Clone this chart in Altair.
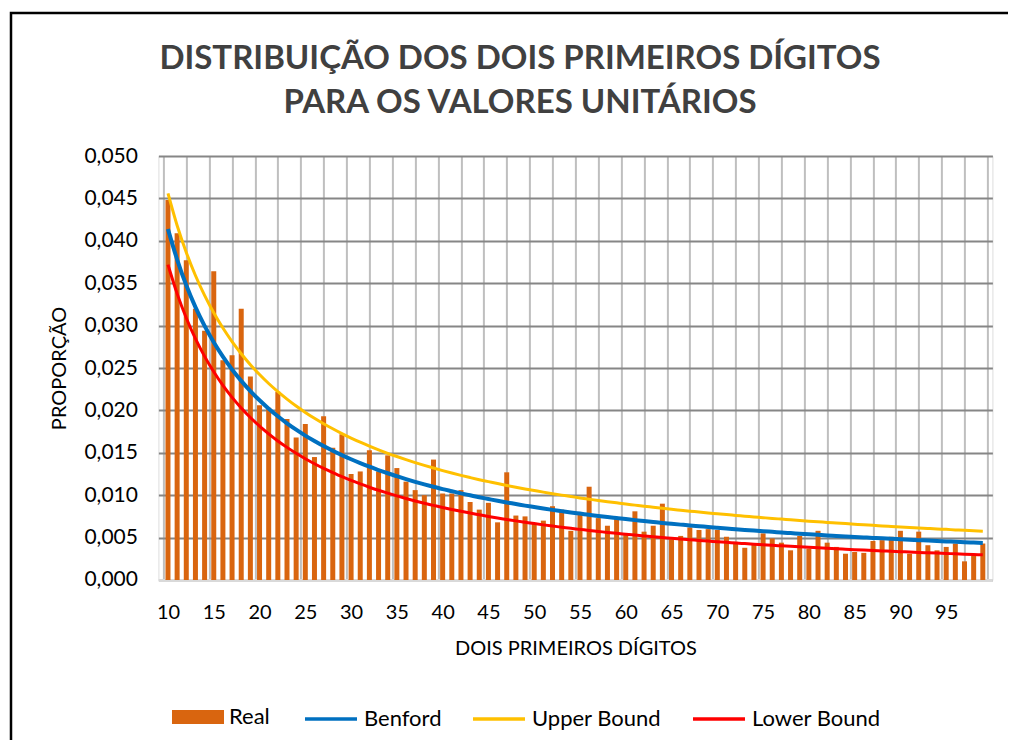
import altair as alt
import pandas as pd

# ---------------- data ----------------
digitos = list(range(10, 100))

real = [
    0.0448, 0.0409, 0.0377, 0.0320, 0.0294, 0.0364, 0.0259, 0.0265, 0.0320, 0.0240,  # 10-19
    0.0206, 0.0203, 0.0222, 0.0190, 0.0168, 0.0184, 0.0145, 0.0193, 0.0156, 0.0172,  # 20-29
    0.0125, 0.0128, 0.0153, 0.0128, 0.0147, 0.0132, 0.0116, 0.0106, 0.0100, 0.0142,  # 30-39
    0.0102, 0.0102, 0.0106, 0.0092, 0.0083, 0.0091, 0.0068, 0.0127, 0.0076, 0.0075,  # 40-49
    0.0067, 0.0070, 0.0087, 0.0083, 0.0058, 0.0077, 0.0110, 0.0073, 0.0064, 0.0072,  # 50-59
    0.0053, 0.0081, 0.0057, 0.0064, 0.0090, 0.0048, 0.0052, 0.0062, 0.0059, 0.0060,  # 60-69
    0.0059, 0.0051, 0.0045, 0.0038, 0.0042, 0.0055, 0.0049, 0.0044, 0.0035, 0.0052,  # 70-79
    0.0037, 0.0058, 0.0044, 0.0039, 0.0031, 0.0033, 0.0032, 0.0046, 0.0047, 0.0051,  # 80-89
    0.0058, 0.0031, 0.0057, 0.0041, 0.0035, 0.0039, 0.0043, 0.0022, 0.0029, 0.0043,  # 90-99
]

benford = [
    0.04139, 0.03779, 0.03476, 0.03218, 0.02996, 0.02803, 0.02633, 0.02482, 0.02348, 0.02228,
    0.02119, 0.02020, 0.01931, 0.01848, 0.01773, 0.01703, 0.01639, 0.01579, 0.01524, 0.01472,
    0.01424, 0.01379, 0.01336, 0.01297, 0.01259, 0.01224, 0.01190, 0.01158, 0.01128, 0.01100,
    0.01072, 0.01047, 0.01022, 0.00999, 0.00976, 0.00955, 0.00934, 0.00914, 0.00896, 0.00877,
    0.00860, 0.00843, 0.00827, 0.00812, 0.00797, 0.00783, 0.00769, 0.00755, 0.00742, 0.00730,
    0.00718, 0.00706, 0.00695, 0.00684, 0.00673, 0.00663, 0.00653, 0.00643, 0.00634, 0.00625,
    0.00616, 0.00607, 0.00599, 0.00591, 0.00583, 0.00575, 0.00568, 0.00560, 0.00553, 0.00546,
    0.00540, 0.00533, 0.00526, 0.00520, 0.00514, 0.00508, 0.00502, 0.00496, 0.00491, 0.00485,
    0.00480, 0.00475, 0.00470, 0.00465, 0.00460, 0.00455, 0.00450, 0.00445, 0.00441, 0.00437,
]

upper_bound = [
    0.04560, 0.04181, 0.03863, 0.03591, 0.03356, 0.03151, 0.02971, 0.02811, 0.02668, 0.02539,
    0.02423, 0.02317, 0.02221, 0.02133, 0.02051, 0.01976, 0.01907, 0.01843, 0.01783, 0.01726,
    0.01674, 0.01625, 0.01579, 0.01535, 0.01494, 0.01456, 0.01419, 0.01384, 0.01351, 0.01320,
    0.01290, 0.01261, 0.01234, 0.01208, 0.01183, 0.01160, 0.01137, 0.01115, 0.01094, 0.01074,
    0.01055, 0.01036, 0.01018, 0.01001, 0.00985, 0.00968, 0.00953, 0.00938, 0.00924, 0.00910,
    0.00896, 0.00883, 0.00870, 0.00858, 0.00846, 0.00834, 0.00823, 0.00812, 0.00802, 0.00791,
    0.00781, 0.00771, 0.00762, 0.00753, 0.00744, 0.00735, 0.00726, 0.00718, 0.00710, 0.00702,
    0.00694, 0.00687, 0.00679, 0.00672, 0.00665, 0.00658, 0.00651, 0.00645, 0.00638, 0.00632,
    0.00626, 0.00620, 0.00614, 0.00608, 0.00602, 0.00597, 0.00591, 0.00586, 0.00581, 0.00576,
]

lower_bound = [
    0.03719, 0.03377, 0.03090, 0.02846, 0.02637, 0.02455, 0.02295, 0.02154, 0.02029, 0.01916,
    0.01815, 0.01724, 0.01640, 0.01564, 0.01494, 0.01430, 0.01371, 0.01316, 0.01266, 0.01218,
    0.01174, 0.01133, 0.01094, 0.01058, 0.01024, 0.00992, 0.00961, 0.00932, 0.00905, 0.00880,
    0.00855, 0.00832, 0.00810, 0.00789, 0.00769, 0.00749, 0.00731, 0.00714, 0.00697, 0.00681,
    0.00665, 0.00650, 0.00636, 0.00623, 0.00609, 0.00597, 0.00584, 0.00573, 0.00561, 0.00550,
    0.00540, 0.00530, 0.00520, 0.00510, 0.00501, 0.00492, 0.00483, 0.00475, 0.00467, 0.00459,
    0.00451, 0.00444, 0.00436, 0.00429, 0.00422, 0.00416, 0.00409, 0.00403, 0.00397, 0.00391,
    0.00385, 0.00379, 0.00374, 0.00368, 0.00363, 0.00358, 0.00353, 0.00348, 0.00343, 0.00339,
    0.00334, 0.00330, 0.00325, 0.00321, 0.00317, 0.00313, 0.00309, 0.00305, 0.00301, 0.00297,
]

x_tick_labels = list(range(10, 100, 5))
y_ticks = [0.0, 0.005, 0.01, 0.015, 0.02, 0.025, 0.03, 0.035, 0.04, 0.045, 0.05]
x_grid = [9.5 + 2.5 * i for i in range(37)]

series_lines = ["Benford", "Upper Bound", "Lower Bound"]
colors_lines = ["#0070C0", "#FFC000", "#FF0000"]
ORANGE = "#D9650F"
FONT = "Lato"

title_lines = ["DISTRIBUIÇÃO DOS DOIS PRIMEIROS DÍGITOS", "PARA OS VALORES UNITÁRIOS"]

# ---------------- tables ----------------
df_bar = pd.DataFrame({"digito": digitos, "valor": real, "serie": ["Real"] * len(digitos)})
df_lines = pd.concat(
    [
        pd.DataFrame({"digito": digitos, "valor": vals, "serie": [name] * len(digitos)})
        for name, vals in zip(series_lines, [benford, upper_bound, lower_bound])
    ],
    ignore_index=True,
)
df_one = pd.DataFrame({"k": [0]})

x_scale = alt.Scale(domain=[9.5, 99.5], nice=False, zero=False)
y_scale = alt.Scale(domain=[0, 0.05], nice=False)

bars = alt.Chart(df_bar).mark_bar(size=5).encode(
    x=alt.X(
        "digito:Q",
        scale=x_scale,
        axis=alt.Axis(
            values=x_grid, grid=True, gridColor="#BFBFBF", gridWidth=2,
            labels=False, ticks=False, domain=False, title=None, orient="bottom",
        ),
    ),
    y=alt.Y(
        "valor:Q",
        scale=y_scale,
        axis=alt.Axis(
            values=y_ticks, grid=True, gridColor="#868686", gridWidth=2,
            ticks=False, domain=False,
            labelExpr="replace(format(datum.value, '.3f'), '.', ',')",
            labelFont=FONT, labelFontSize=21, labelColor="#000000", labelPadding=21,
            title="PROPORÇÃO", titleFont=FONT, titleFontSize=20, titleFontWeight="normal",
            titleColor="#000000", titlePadding=14,
        ),
    ),
    color=alt.Color(
        "serie:N",
        scale=alt.Scale(domain=["Real"], range=[ORANGE]),
        legend=alt.Legend(
            orient="none", legendX=13.6, legendY=535, title=None, padding=0,
            symbolType="M-1,-0.27H1V0.27H-1Z", symbolSize=2704, symbolStrokeWidth=0,
            labelFont=FONT, labelFontSize=22, labelColor="#000000", labelOffset=5,
            direction="horizontal",
        ),
    ),
)

lines = alt.Chart(df_lines).mark_line(interpolate="monotone").encode(
    x=alt.X(
        "digito:Q",
        scale=x_scale,
        axis=alt.Axis(
            values=x_tick_labels, grid=False, ticks=False, domain=True,
            domainColor="#D9D9D9", domainWidth=3, orient="bottom",
            labelFont=FONT, labelFontSize=20, labelColor="#000000", labelPadding=23,
            title="DOIS PRIMEIROS DÍGITOS", titleFont=FONT, titleFontSize=20,
            titleFontWeight="normal", titleColor="#000000", titlePadding=16,
        ),
    ),
    y=alt.Y("valor:Q", scale=y_scale),
    color=alt.Color(
        "serie:N",
        scale=alt.Scale(domain=series_lines, range=colors_lines),
        sort=series_lines,
        legend=alt.Legend(
            orient="none", legendX=144.6, legendY=535, title=None, padding=0,
            symbolType="stroke", symbolSize=2704, symbolStrokeWidth=3.5,
            labelFont=FONT, labelFontSize=22, labelColor="#000000", labelOffset=5,
            columnPadding=24, direction="horizontal",
        ),
    ),
    strokeWidth=alt.condition(alt.datum.serie == "Benford", alt.value(4), alt.value(3)),
)

frame = alt.Chart(df_one).mark_rect(
    filled=False, stroke="#000000", strokeWidth=2.5, clip=False
).encode(
    x=alt.value(-147.4), x2=alt.value(854), y=alt.value(-143), y2=alt.value(640)
)

title = alt.Chart(df_one).mark_text(
    text=title_lines, font=FONT, fontSize=33, fontWeight="bold", color="#404040",
    align="center", baseline="middle", lineHeight=44, clip=False,
).encode(x=alt.value(361.6), y=alt.value(-97))

chart = (
    alt.layer(bars, lines, frame, title)
    .resolve_scale(color="independent")
    .resolve_axis(x="independent")
    .properties(
        width=834,
        height=424,
        autosize=alt.AutoSizeParams(type="none"),
        padding={"left": 150.4, "top": 148, "right": 16, "bottom": 160},
    )
    .configure_view(strokeWidth=0)
    .configure(background="#FFFFFF")
)

chart.save("out.html", embed_options={"renderer": "svg", "actions": False})
